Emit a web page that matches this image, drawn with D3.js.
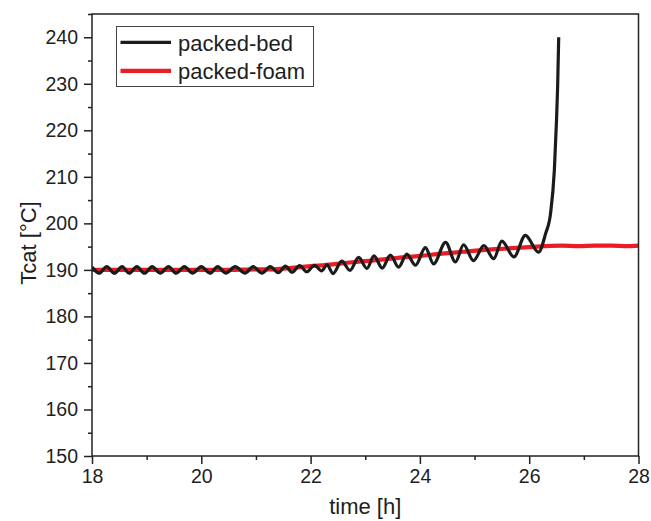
<!DOCTYPE html>
<html>
<head>
<meta charset="utf-8">
<script src="https://cdn.jsdelivr.net/npm/d3@7"></script>
<style>
  html, body { margin: 0; padding: 0; background: #fff; }
  svg { display: block; }
  text { font-family: "Liberation Sans", Arial, sans-serif; fill: #1e1e1e; }
</style>
</head>
<body>
<svg id="chart" width="651" height="521"></svg>
<script>
// ---- data ----
const seriesNames = ["packed-bed", "packed-foam"];
const xTicks = [18, 20, 22, 24, 26, 28];
const yTicks = [150, 160, 170, 180, 190, 200, 210, 220, 230, 240];

// packed-bed: time [h] and Tcat [°C]
const bedTime = [
  18.00, 18.13, 18.27, 18.41, 18.55, 18.68, 18.82, 18.96, 19.10, 19.25, 19.40, 19.54,
  19.69, 19.84, 20.00, 20.16, 20.30, 20.45, 20.62, 20.80, 20.95, 21.11, 21.26, 21.41,
  21.54, 21.66, 21.80, 21.93, 22.07, 22.20, 22.30, 22.41, 22.57, 22.72, 22.88, 23.03,
  23.16, 23.31, 23.46, 23.61, 23.76, 23.92, 24.10, 24.25, 24.47, 24.65, 24.80, 24.98,
  25.17, 25.35, 25.50, 25.72, 25.93, 26.17, 26.30, 26.39, 26.46, 26.50, 26.52, 26.54
];
const bedTemp = [
  190.6, 189.3, 190.7, 189.3, 190.7, 189.3, 190.7, 189.3, 190.7, 189.3, 190.7, 189.3,
  190.7, 189.3, 190.7, 189.3, 190.7, 189.3, 190.7, 189.3, 190.7, 189.3, 190.7, 189.4,
  190.8, 189.5, 190.9, 189.6, 191.0, 189.8, 191.1, 189.2, 191.9, 189.9, 192.7, 190.3,
  193.0, 190.4, 193.2, 190.6, 193.4, 191.0, 194.8, 191.3, 195.9, 191.7, 195.4, 192.0,
  195.2, 192.4, 196.2, 192.8, 197.4, 193.8, 197.8, 202.1, 211.4, 222.2, 229.3, 240.0
];

// packed-foam
const foamTime = [
  18.0, 18.5, 19.0, 19.5, 20.0, 20.5, 21.0, 21.3, 21.6, 22.0, 22.4, 22.8, 23.2, 23.6,
  24.0, 24.4, 24.8, 25.2, 25.6, 26.0, 26.3, 26.6, 26.9, 27.2, 27.5, 27.8, 28.0
];
const foamTemp = [
  190.0, 190.0, 190.0, 190.0, 190.0, 190.0, 190.1, 190.1, 190.4, 190.8, 191.2, 191.7, 192.1, 192.6,
  193.0, 193.5, 193.9, 194.3, 194.6, 194.9, 195.1, 195.2, 195.1, 195.2, 195.2, 195.1, 195.2
];

// ---- layout ----
const svg = d3.select("#chart");
const m = { left: 92, right: 638.5, top: 14, bottom: 456 };
const x = d3.scaleLinear().domain([18, 28]).range([m.left, m.right]);
const y = d3.scaleLinear().domain([150, 245]).range([m.bottom, m.top]);
const axisColor = "#222";
const colors = { "packed-bed": "#1b1b1b", "packed-foam": "#ec1c24" };

const bed = bedTime.map((t, i) => [t, bedTemp[i]]);
const foam = foamTime.map((t, i) => [t, foamTemp[i]]);

const line = d3.line().x(d => x(d[0])).y(d => y(d[1])).curve(d3.curveMonotoneX);

svg.append("clipPath").attr("id", "clip")
  .append("rect").attr("x", m.left).attr("y", m.top)
  .attr("width", m.right - m.left).attr("height", m.bottom - m.top);

const plot = svg.append("g").attr("clip-path", "url(#clip)");
plot.append("path").datum(foam).attr("d", line)
  .attr("fill", "none").attr("stroke", colors["packed-foam"]).attr("stroke-width", 4.2);
plot.append("path").datum(bed).attr("d", line)
  .attr("fill", "none").attr("stroke", colors["packed-bed"]).attr("stroke-width", 3.2)
  .attr("stroke-linejoin", "round");

// axes
const xAxis = d3.axisBottom(x).tickValues(xTicks).tickSize(8).tickPadding(5).tickFormat(d3.format("d"));
const xMinor = d3.axisBottom(x).tickValues([19, 21, 23, 25, 27]).tickSize(4).tickFormat("");
const yAxis = d3.axisLeft(y).tickValues(yTicks).tickSize(8).tickPadding(6).tickFormat(d3.format("d"));
const yMinor = d3.axisLeft(y).tickValues([155, 165, 175, 185, 195, 205, 215, 225, 235, 245]).tickSize(4).tickFormat("");

function styleAxis(g) {
  g.select(".domain").remove();
  g.selectAll("line").attr("stroke", axisColor).attr("stroke-width", 1.5);
  g.selectAll("text").attr("font-size", 19.5).attr("fill", "#1e1e1e")
    .attr("font-family", "'Liberation Sans', Arial, sans-serif");
}
svg.append("g").attr("transform", `translate(0,${m.bottom})`).call(xAxis).call(styleAxis);
svg.append("g").attr("transform", `translate(0,${m.bottom})`).call(xMinor).call(styleAxis);
svg.append("g").attr("transform", `translate(${m.left},0)`).call(yAxis).call(styleAxis);
svg.append("g").attr("transform", `translate(${m.left},0)`).call(yMinor).call(styleAxis);

// frame
svg.append("rect").attr("x", m.left).attr("y", m.top)
  .attr("width", m.right - m.left).attr("height", m.bottom - m.top)
  .attr("fill", "none").attr("stroke", axisColor).attr("stroke-width", 1.5);

// axis titles
svg.append("text").attr("x", (m.left + m.right) / 2).attr("y", 514)
  .attr("text-anchor", "middle").attr("font-size", 22).text("time [h]");
svg.append("text").attr("transform", `translate(36,${(m.top + m.bottom) / 2 + 8}) rotate(-90)`)
  .attr("text-anchor", "middle").attr("font-size", 22).text("Tcat [°C]");

// legend
const lg = svg.append("g");
lg.append("rect").attr("x", 116.5).attr("y", 26.5).attr("width", 197).attr("height", 60)
  .attr("fill", "#fff").attr("stroke", "#444").attr("stroke-width", 1);
seriesNames.forEach((name, i) => {
  const yy = 42.3 + i * 28.5;
  lg.append("line").attr("x1", 120.5).attr("x2", 171).attr("y1", yy).attr("y2", yy)
    .attr("stroke", colors[name]).attr("stroke-width", name === "packed-foam" ? 4.2 : 3.2);
  lg.append("text").attr("x", 178).attr("y", yy + 8.5).attr("font-size", 22).text(name);
});
</script>
</body>
</html>
